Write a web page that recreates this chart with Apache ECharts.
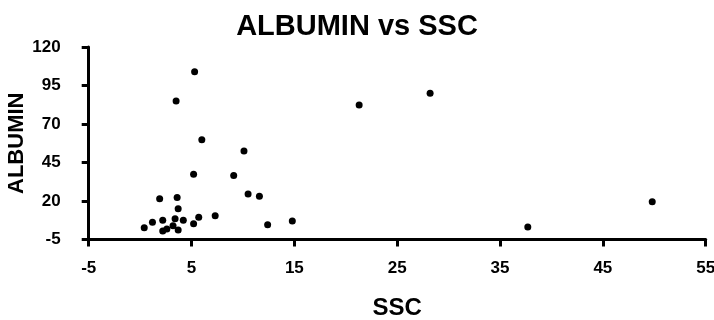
<!DOCTYPE html>
<html>
<head>
<meta charset="utf-8">
<script src="https://cdn.jsdelivr.net/npm/echarts@6/dist/echarts.min.js"></script>
<style>html,body{margin:0;padding:0;background:#fff;}#c{width:714px;height:320px;}</style>
</head>
<body>
<div id="c"></div>
<script>
var titleText = 'ALBUMIN vs SSC';
var xName = 'SSC';
var yName = 'ALBUMIN';
var sscValues = [0.4, 1.2, 1.9, 2.2, 2.2, 2.6, 3.2, 3.4, 3.6, 3.7, 3.7, 4.2, 3.5, 5.3, 6.0, 5.2, 5.2, 5.7, 7.3, 9.1, 10.1, 10.5, 11.6, 12.4, 14.8, 21.3, 28.2, 37.7, 49.8];
var albuminValues = [2.7, 6.2, 21.5, 7.5, 0.5, 1.8, 4.0, 8.5, 22.2, 15.0, 1.2, 7.5, 85.0, 104.0, 59.7, 37.4, 5.3, 9.4, 10.5, 36.5, 52.5, 24.6, 23.1, 4.6, 7.0, 82.3, 89.9, 3.1, 19.5];
var xTicks = [-5, 5, 15, 25, 35, 45, 55];
var yTicks = [-5, 20, 45, 70, 95, 120];

var pts = sscValues.map(function (v, i) { return [v, albuminValues[i]]; });
var labelFont = {color: '#000', fontWeight: 'bold', fontFamily: 'Liberation Sans Narrow, Arial, sans-serif', fontSize: 17};
var chart = echarts.init(document.getElementById('c'), null, {renderer: 'canvas'});
chart.setOption({
  animation: false,
  backgroundColor: '#fff',
  title: {
    text: titleText, left: 352, top: 7, textAlign: 'center',
    textStyle: {fontFamily: 'Liberation Sans, Arial, sans-serif', fontWeight: 'bold', fontSize: 29, color: '#000'}
  },
  grid: {left: 88.7, right: 8.3, top: 47, bottom: 80.5, containLabel: false, outerBoundsMode: 'none'},
  xAxis: {
    type: 'value', min: xTicks[0], max: xTicks[xTicks.length - 1], interval: 10,
    name: xName, nameLocation: 'middle', nameGap: 57, nameMoveOverlap: false,
    nameTextStyle: {color: '#000', fontWeight: 'bold', fontFamily: 'Liberation Sans Narrow, Arial, sans-serif', fontSize: 24},
    axisLine: {show: true, onZero: false, lineStyle: {color: '#000', width: 3}},
    axisTick: {show: true, inside: false, length: 7, lineStyle: {color: '#000', width: 3}},
    axisLabel: Object.assign({margin: 20}, labelFont),
    splitLine: {show: false}
  },
  yAxis: {
    type: 'value', min: yTicks[0], max: yTicks[yTicks.length - 1], interval: 25,
    name: yName, nameLocation: 'middle', nameGap: 61, nameMoveOverlap: false,
    nameTextStyle: {color: '#000', fontWeight: 'bold', fontFamily: 'Liberation Sans Narrow, Arial, sans-serif', fontSize: 22},
    axisLine: {show: true, onZero: false, lineStyle: {color: '#000', width: 3}},
    axisTick: {show: true, inside: false, length: 7, lineStyle: {color: '#000', width: 3}},
    axisLabel: Object.assign({margin: 28}, labelFont),
    splitLine: {show: false}
  },
  series: [{
    type: 'scatter', data: pts, symbol: 'circle', symbolSize: 7,
    itemStyle: {color: '#000', opacity: 1}
  }]
});
</script>
</body>
</html>
